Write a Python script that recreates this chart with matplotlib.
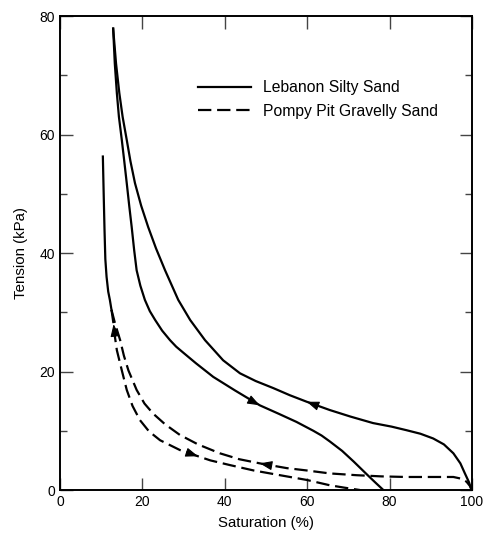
import matplotlib.pyplot as plt
import numpy as np
from matplotlib.ticker import MultipleLocator

plt.rcParams["font.family"] = ["Liberation Sans", "DejaVu Sans"]

# Lebanon Silty Sand, drying (upper) branch
LEB_DRY_SAT = [12.9, 13.6, 14.4, 15.2, 16.2, 17.1, 18.2, 19.7, 21.4, 23.3, 25.5,
               28.7, 31.6, 35.2, 39.6, 43.7, 47.5, 51.8, 55.8, 59.9, 65.5, 70.5,
               76.0, 80.5, 84.1, 87.5, 90.6, 93.2, 95.5, 97.2, 98.3, 99.3, 99.9]
LEB_DRY_TEN = [77.9, 72.0, 67.0, 63.0, 59.1, 55.5, 51.8, 48.0, 44.4, 40.8, 37.1,
               32.1, 28.7, 25.3, 21.9, 19.7, 18.4, 17.2, 16.0, 14.9, 13.5, 12.4,
               11.3, 10.7, 10.1, 9.5, 8.7, 7.7, 6.2, 4.5, 2.8, 1.3, 0.0]
# Lebanon Silty Sand, wetting (lower) branch
LEB_WET_SAT = [12.9, 13.3, 13.8, 14.3, 15.0, 15.6, 16.2, 16.8, 17.4, 18.0, 18.6,
               19.5, 20.6, 21.8, 23.1, 24.8, 26.7, 28.2, 29.9, 33.0, 37.2, 42.5,
               48.5, 53.0, 57.4, 61.5, 63.5, 65.5, 68.5, 71.3, 74.4, 76.5, 78.5]
LEB_WET_TEN = [77.9, 72.0, 67.0, 63.0, 59.1, 55.5, 51.8, 48.0, 44.4, 40.5, 37.1,
               34.5, 32.1, 30.2, 28.7, 26.9, 25.3, 24.2, 23.2, 21.4, 19.1, 16.8,
               14.3, 12.9, 11.5, 10.0, 9.2, 8.2, 6.6, 4.8, 2.7, 1.3, 0.0]
# Pompy Pit Gravelly Sand, drying (upper) branch
POM_DRY_SAT = [10.4, 10.6, 10.8, 11.0, 11.3, 11.7, 12.1, 12.5, 13.4, 14.6, 15.5,
               16.6, 18.6, 20.5, 22.6, 25.5, 29.1, 33.5, 38.8, 43.5, 48.5, 55.0,
               59.9, 65.5, 72.0, 78.0, 84.1, 90.0, 95.5, 97.5, 98.7, 99.5, 100.0]
POM_DRY_TEN = [56.3, 50.0, 44.0, 39.0, 36.0, 33.5, 32.1, 30.4, 28.0, 25.3, 22.7,
               20.2, 16.9, 14.6, 12.9, 11.1, 9.3, 7.7, 6.2, 5.2, 4.5, 3.7,
               3.3, 2.8, 2.5, 2.3, 2.2, 2.2, 2.2, 1.9, 1.4, 0.7, 0.0]
# Pompy Pit Gravelly Sand, wetting (lower) branch
POM_WET_SAT = [10.4, 10.6, 10.8, 11.0, 11.3, 11.7, 12.1, 12.5, 13.0, 13.3, 13.8,
               15.0, 16.2, 17.6, 19.4, 21.6, 24.3, 29.1, 33.5, 36.5, 41.3, 47.0,
               53.4, 59.9, 65.5, 69.0, 72.8]
POM_WET_TEN = [56.3, 50.0, 44.0, 39.0, 36.0, 33.5, 32.1, 30.4, 28.0, 26.0, 23.6,
               20.2, 16.9, 14.2, 11.8, 9.9, 8.4, 6.75, 5.7, 5.0, 4.2, 3.3,
               2.5, 1.7, 0.8, 0.4, 0.0]
N_SHARED = 8  # points shared by both Pompy Pit branches (drawn as one stroke)

DASH = (0, (6, 2.6))
LW = 1.6


def arrow_at(ax, xs, ys, x_target, reverse=False):
    # filled head on the curve point nearest x_target, pointing along the curve
    xs, ys = np.asarray(xs), np.asarray(ys)
    i = int(np.argmin(np.abs(xs - x_target)))
    dx, dy = xs[i + 1] - xs[i - 1], ys[i + 1] - ys[i - 1]
    if reverse:
        dx, dy = -dx, -dy
    k = 0.12
    ax.annotate("", xy=(xs[i], ys[i]), xytext=(xs[i] - dx * k, ys[i] - dy * k),
                arrowprops=dict(arrowstyle="-|>,head_length=0.75,head_width=0.28",
                                color="black", lw=0.8, shrinkA=0, shrinkB=0))


def main() -> None:
    fig = plt.figure(figsize=(4.86, 5.38), dpi=100)
    ax = fig.add_axes([0.1235, 0.0892, 0.8475, 0.8808])

    ax.plot(LEB_DRY_SAT, LEB_DRY_TEN, color="black", lw=LW, label="Lebanon Silty Sand")
    ax.plot(LEB_WET_SAT, LEB_WET_TEN, color="black", lw=LW)
    ax.plot(POM_DRY_SAT[:N_SHARED], POM_DRY_TEN[:N_SHARED], color="black", lw=LW)
    ax.plot(POM_DRY_SAT[N_SHARED - 1:], POM_DRY_TEN[N_SHARED - 1:], color="black",
            lw=LW, ls=DASH, label="Pompy Pit Gravelly Sand")
    ax.plot(POM_WET_SAT[N_SHARED - 1:], POM_WET_TEN[N_SHARED - 1:], color="black",
            lw=LW, ls=DASH)

    arrow_at(ax, LEB_DRY_SAT, LEB_DRY_TEN, 59.9, reverse=True)
    arrow_at(ax, LEB_WET_SAT, LEB_WET_TEN, 48.5)
    arrow_at(ax, POM_DRY_SAT, POM_DRY_TEN, 48.5, reverse=True)
    arrow_at(ax, POM_WET_SAT, POM_WET_TEN, 33.5)
    arrow_at(ax, POM_WET_SAT, POM_WET_TEN, 13.0, reverse=True)

    ax.set_xlim(0, 100)
    ax.set_ylim(0, 80)
    ax.xaxis.set_major_locator(MultipleLocator(20))
    ax.yaxis.set_major_locator(MultipleLocator(20))
    ax.yaxis.set_minor_locator(MultipleLocator(10))
    ax.tick_params(which="both", direction="in", top=True, right=True,
                   labelsize=10, width=1.0, color="#444444")
    ax.tick_params(which="major", length=9)
    ax.tick_params(which="minor", length=5)
    for s in ax.spines.values():
        s.set_linewidth(1.4)
    ax.set_xlabel("Saturation (%)", fontsize=10.8, labelpad=5)
    ax.set_ylabel("Tension (kPa)", fontsize=10.8, labelpad=8)

    ax.legend(loc="upper left", bbox_to_anchor=(0.30, 0.895), frameon=False,
              fontsize=11.3, handlelength=3.4, handletextpad=0.75, labelspacing=0.55)

    fig.savefig("out.png", dpi=100)


main() if __name__ == "__main__" else None
